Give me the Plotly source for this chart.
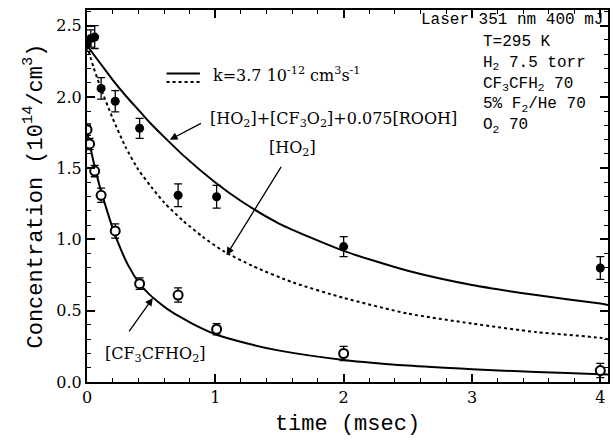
import plotly.graph_objects as go

# Measured concentrations (10^14 molecule/cm^3) versus time (msec)
t_total = [0.0, 0.03, 0.06, 0.11, 0.22, 0.41, 0.71, 1.01, 2.0, 4.0]
c_total = [2.37, 2.41, 2.42, 2.06, 1.97, 1.78, 1.31, 1.30, 0.95, 0.80]
e_total = [0.05, 0.06, 0.08, 0.075, 0.075, 0.07, 0.08, 0.08, 0.07, 0.08]

t_rad = [0.0, 0.02, 0.06, 0.11, 0.22, 0.41, 0.71, 1.01, 2.0, 4.0]
c_rad = [1.77, 1.67, 1.48, 1.31, 1.06, 0.69, 0.61, 0.37, 0.20, 0.08]
e_rad = [0.04, 0.04, 0.04, 0.05, 0.05, 0.04, 0.05, 0.04, 0.05, 0.05]

# Model curves (k = 3.7e-12 cm^3 s^-1)
fit_total_t = [0.0, 0.1, 0.2, 0.3, 0.41, 0.5, 0.6, 0.75, 1.0, 1.2, 1.5, 2.0, 2.5, 3.0, 3.5, 4.0, 4.06]
fit_total_c = [2.36, 2.24, 2.12, 2.01, 1.90, 1.81, 1.72, 1.59, 1.40, 1.27, 1.11, 0.92, 0.78, 0.68, 0.61, 0.55, 0.54]

fit_ho2_t = [0.0, 0.05, 0.1, 0.2, 0.3, 0.4, 0.5, 0.6, 0.75, 0.9, 1.06, 1.3, 1.6, 2.0, 2.5, 3.0, 3.5, 4.0, 4.06]
fit_ho2_c = [2.36, 2.21, 2.08, 1.85, 1.65, 1.49, 1.37, 1.26, 1.13, 1.02, 0.92, 0.81, 0.70, 0.59, 0.48, 0.41, 0.35, 0.31, 0.30]

fit_rad_t = [0.0, 0.03, 0.06, 0.1, 0.15, 0.2, 0.25, 0.32, 0.41, 0.48, 0.55, 0.63, 0.72, 0.85, 1.0, 1.25, 1.5, 2.0, 2.5, 3.0, 3.5, 4.0, 4.06]
fit_rad_c = [1.76, 1.63, 1.51, 1.37, 1.22, 1.08, 0.96, 0.82, 0.69, 0.62, 0.565, 0.51, 0.46, 0.395, 0.335, 0.27, 0.22, 0.155, 0.115, 0.09, 0.07, 0.055, 0.053]

x_ticks = [0, 1, 2, 3, 4]
y_ticks = [0.0, 0.5, 1.0, 1.5, 2.0, 2.5]

laser_line = "Laser 351 nm 400 mJ"
conditions = ["T=295 K", "H<sub>2</sub> 7.5 torr", "CF<sub>3</sub>CFH<sub>2</sub> 70",
              "5% F<sub>2</sub>/He 70", "O<sub>2</sub> 70"]

SERIF = "DejaVu Serif"
MONO = "Liberation Mono"

fig = go.Figure()

curve = dict(color="black", width=2, shape="spline", smoothing=0.6)
fig.add_trace(go.Scatter(x=fit_total_t, y=fit_total_c, mode="lines", line=curve))
fig.add_trace(go.Scatter(x=fit_ho2_t, y=fit_ho2_c, mode="lines", line=dict(curve, dash="dot")))
fig.add_trace(go.Scatter(x=fit_rad_t, y=fit_rad_c, mode="lines", line=curve))

fig.add_trace(go.Scatter(
    x=t_total, y=c_total, mode="markers",
    marker=dict(symbol="circle", size=9, color="black"),
    error_y=dict(type="data", array=e_total, color="black", thickness=1.3, width=4),
))
fig.add_trace(go.Scatter(
    x=t_rad, y=c_rad, mode="markers",
    marker=dict(symbol="circle", size=9, color="white", line=dict(color="black", width=2)),
    error_y=dict(type="data", array=e_rad, color="black", thickness=1.3, width=4),
))

# key for the model curves
fig.add_shape(type="line", x0=0.62, x1=0.88, y0=2.165, y1=2.165, line=dict(color="black", width=2))
fig.add_shape(type="line", x0=0.62, x1=0.88, y0=2.105, y1=2.105,
              line=dict(color="black", width=2, dash="dot"))

ann = []
ann.append(dict(x=0.97, y=2.155, xanchor="left", yanchor="middle", showarrow=False,
                text="k=3.7 10<sup>-12</sup> cm<sup>3</sup>s<sup>-1</sup>",
                font=dict(family=SERIF, size=16, color="black")))
ann.append(dict(x=0.94, y=1.84, xanchor="left", yanchor="middle", showarrow=False,
                text="[HO<sub>2</sub>]+[CF<sub>3</sub>O<sub>2</sub>]+0.075[ROOH]",
                font=dict(family=SERIF, size=16, color="black")))
ann.append(dict(x=1.60, y=1.64, xanchor="center", yanchor="middle", showarrow=False,
                text="[HO<sub>2</sub>]", font=dict(family=SERIF, size=16, color="black")))
ann.append(dict(x=0.53, y=0.19, xanchor="center", yanchor="middle", showarrow=False,
                text="[CF<sub>3</sub>CFHO<sub>2</sub>]", font=dict(family=SERIF, size=16, color="black")))

arrow = dict(text="", showarrow=True, arrowhead=2, arrowsize=1.2, arrowwidth=1.3,
             arrowcolor="black", axref="x", ayref="y", xref="x", yref="y", standoff=0, startstandoff=0)
ann.append(dict(arrow, x=0.645, y=1.70, ax=0.90, ay=1.82))
ann.append(dict(arrow, x=1.087, y=0.89, ax=1.52, ay=1.52))
ann.append(dict(arrow, x=0.513, y=0.59, ax=0.32, ay=0.344))

ann.append(dict(xref="paper", yref="paper", x=0.995, y=0.972, xanchor="right", yanchor="middle",
                showarrow=False, text=laser_line,
                font=dict(family=MONO, size=16, color="black")))
ann.append(dict(xref="paper", yref="paper", x=0.757, y=0.944, xanchor="left", yanchor="top",
                align="left", showarrow=False, text="<br>".join(conditions),
                font=dict(family=MONO, size=16, color="black")))

axis_common = dict(showline=True, linecolor="black", linewidth=2, mirror="allticks",
                   ticks="inside", ticklen=8, tickwidth=1.5, tickcolor="black",
                   showgrid=False, zeroline=False,
                   tickfont=dict(family=SERIF, size=16, color="black"))

fig.update_layout(
    width=614, height=440,
    margin=dict(l=87, r=4, t=10, b=58),
    paper_bgcolor="white", plot_bgcolor="white",
    showlegend=False,
    annotations=ann,
    xaxis=dict(axis_common, range=[0, 4.06], tickvals=x_ticks,
               minor=dict(dtick=0.2, ticks="inside", ticklen=4, tickcolor="black", tickwidth=1.2),
               title=dict(text="time (msec)", font=dict(family=MONO, size=22, color="black"), standoff=8)),
    yaxis=dict(axis_common, range=[0, 2.61], tickvals=y_ticks, tickformat=".1f",
               minor=dict(dtick=0.1, ticks="inside", ticklen=4, tickcolor="black", tickwidth=1.2),
               title=dict(text="Concentration (10<sup>14</sup>/cm<sup>3</sup>)",
                          font=dict(family=MONO, size=22, color="black"), standoff=8)),
)

fig.write_html("out.html")
